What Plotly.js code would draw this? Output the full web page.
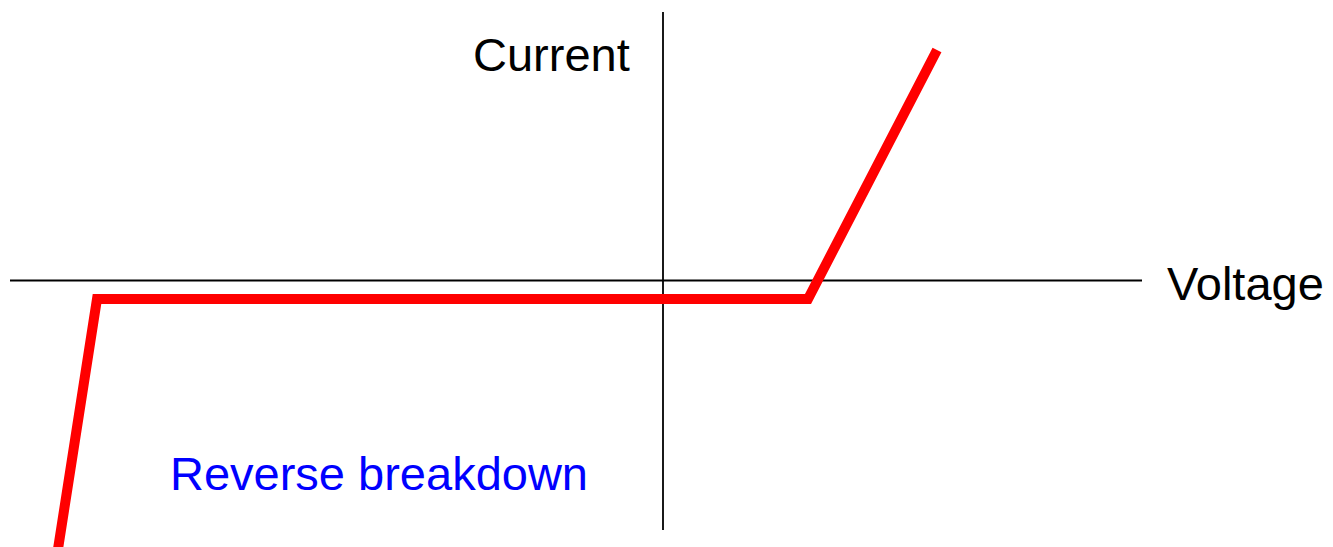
<!DOCTYPE html>
<html>
<head>
<meta charset="utf-8">
<script src="https://cdn.plot.ly/plotly-3.0.1.min.js"></script>
<style>html,body{margin:0;padding:0;background:#fff;}#chart{width:1333px;height:547px;}</style>
</head>
<body>
<div id="chart"></div>
<script>
// I-V characteristic of a diode (schematic units)
var voltage = [-6.06, -5.66, 1.45, 2.74];
var current = [-2.75, -0.185, -0.185, 2.305];

// Axis lines
var xAxisV = [-6.53, 4.79];
var xAxisI = [0, 0];
var yAxisV = [0, 0];
var yAxisI = [2.685, -2.495];

// Labels
var labelText = ["Current", "Voltage", "Reverse breakdown"];
var labelV = [-1.12, 5.82, -2.84];
var labelI = [2.259, -0.031, -1.931];
var labelColor = ["#000000", "#000000", "#0000ff"];

var traces = [
  {x: xAxisV, y: xAxisI, mode: 'lines', line: {color: '#000', width: 1.8}, hoverinfo: 'skip'},
  {x: yAxisV, y: yAxisI, mode: 'lines', line: {color: '#000', width: 1.8}, hoverinfo: 'skip'},
  {x: voltage, y: current, mode: 'lines', line: {color: '#ff0000', width: 10}, hoverinfo: 'skip'}
];

var annotations = labelText.map(function (t, i) {
  return {x: labelV[i], y: labelI[i], xref: 'x', yref: 'y', text: t, showarrow: false,
    xanchor: 'center', yanchor: 'middle',
    font: {family: 'Liberation Sans, Arial, sans-serif', size: 47, color: labelColor[i]}};
});

var layout = {
  width: 1333, height: 547,
  margin: {l: 0, r: 0, t: 0, b: 0, pad: 0},
  paper_bgcolor: '#fff', plot_bgcolor: '#fff',
  showlegend: false,
  hovermode: false,
  xaxis: {range: [-6.63, 6.70], visible: false, fixedrange: true},
  yaxis: {range: [-2.665, 2.805], visible: false, fixedrange: true},
  annotations: annotations
};

Plotly.newPlot('chart', traces, layout, {displayModeBar: false, staticPlot: true});
</script>
</body>
</html>
